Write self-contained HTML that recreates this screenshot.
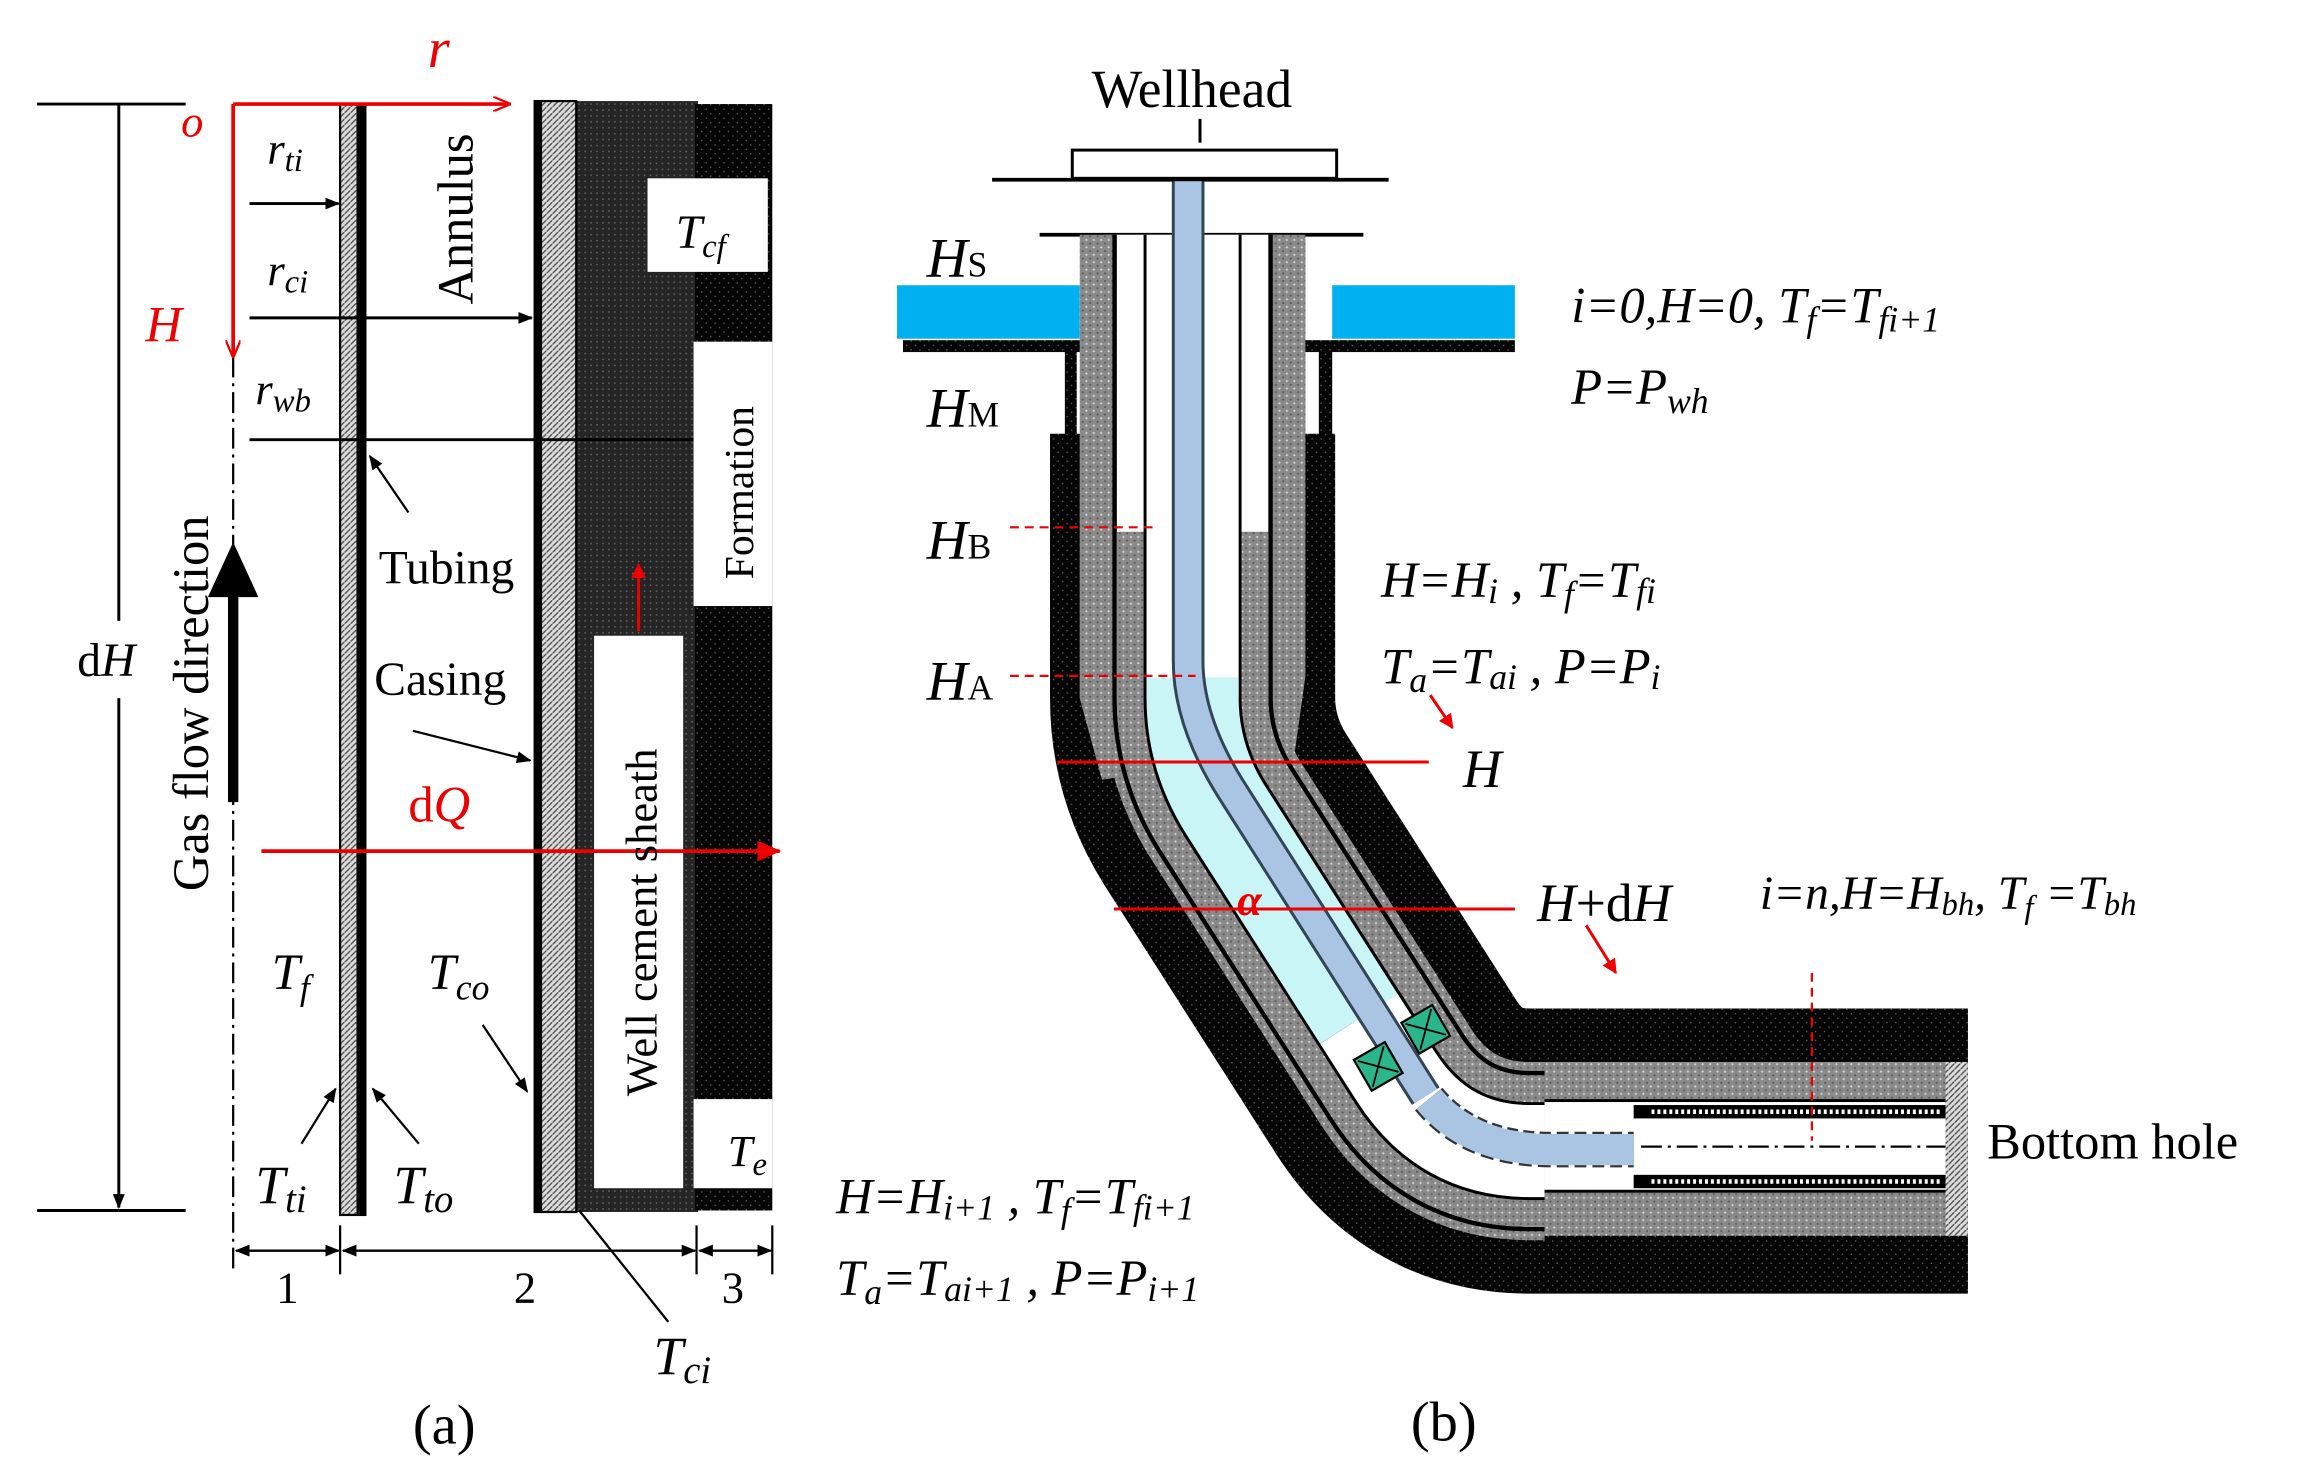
<!DOCTYPE html>
<html><head><meta charset="utf-8"><style>
html,body{margin:0;padding:0;background:#fff}
svg{display:block}
text{font-family:"Liberation Serif",serif;fill:#000}
.i{font-style:italic}
.r{fill:#e00}
</style></head><body>
<svg width="2302" height="1469" viewBox="0 0 1550 989" xmlns="http://www.w3.org/2000/svg">
<defs>
<pattern id="blk" width="6" height="6" patternUnits="userSpaceOnUse"><rect width="6" height="6" fill="#050505"/><circle cx="1.5" cy="1.5" r="0.5" fill="#666"/><circle cx="4.5" cy="4.5" r="0.5" fill="#666"/></pattern>
<pattern id="gry" width="5" height="5" patternUnits="userSpaceOnUse"><rect width="5" height="5" fill="#8a8a8a"/><circle cx="1.5" cy="1.5" r="0.7" fill="#ddd"/><circle cx="4" cy="4" r="0.7" fill="#555"/></pattern>
<pattern id="hat" width="4" height="4" patternUnits="userSpaceOnUse"><rect width="4" height="4" fill="#ddd"/><path d="M0,4 L4,0" stroke="#555" stroke-width="1"/></pattern>
<pattern id="dk" width="4" height="4" patternUnits="userSpaceOnUse"><rect width="4" height="4" fill="#252525"/><circle cx="2" cy="2" r="0.6" fill="#666"/></pattern>
<marker id="ab" markerWidth="10" markerHeight="8" refX="9" refY="4" orient="auto" markerUnits="userSpaceOnUse"><path d="M0,0 L10,4 L0,8 z" fill="#000"/></marker>
<marker id="ar" markerWidth="12" markerHeight="10" refX="11" refY="5" orient="auto" markerUnits="userSpaceOnUse"><path d="M0,0 L12,5 L0,10" fill="none" stroke="#e00" stroke-width="1.5"/></marker>
<marker id="arf" markerWidth="16" markerHeight="14" refX="15" refY="7" orient="auto" markerUnits="userSpaceOnUse"><path d="M0,0 L16,7 L0,14 z" fill="#e00"/></marker>
<marker id="ars" markerWidth="10" markerHeight="10" refX="9" refY="5" orient="auto" markerUnits="userSpaceOnUse"><path d="M0,0 L10,5 L0,10 z" fill="#e00"/></marker>
</defs>

<!-- ===== Panel (a) ===== -->
<line x1="25" y1="70" x2="125" y2="70" stroke="#000" stroke-width="2"/>
<line x1="25" y1="815" x2="125" y2="815" stroke="#000" stroke-width="2"/>
<line x1="80" y1="70" x2="80" y2="418" stroke="#000" stroke-width="2"/>
<line x1="80" y1="470" x2="80" y2="813" stroke="#000" stroke-width="2" marker-end="url(#ab)"/>
<text x="52" y="455" font-size="32">d<tspan class="i">H</tspan></text>

<rect x="388" y="68" width="82" height="748" fill="url(#dk)"/>
<rect x="468" y="70" width="52" height="745" fill="url(#blk)"/>
<rect x="467" y="230" width="53" height="178" fill="#fff"/>
<rect x="467" y="740" width="53" height="60" fill="#fff"/>
<rect x="436" y="120" width="81" height="63" fill="#fff"/>
<rect x="400" y="428" width="60" height="372" fill="#fff"/>
<rect x="360" y="68" width="28" height="748" fill="url(#hat)" stroke="#000" stroke-width="1.5"/>
<rect x="360" y="68" width="5" height="748" fill="#000"/>
<rect x="229" y="70" width="17" height="748" fill="url(#hat)" stroke="#000" stroke-width="1.5"/>
<rect x="240" y="70" width="6" height="748" fill="#000"/>

<line x1="157" y1="240" x2="157" y2="858" stroke="#000" stroke-width="1.5" stroke-dasharray="14,4,2,4"/>
<line x1="157" y1="70" x2="343" y2="70" stroke="#e00" stroke-width="2.5" marker-end="url(#ar)"/>
<line x1="157" y1="70" x2="157" y2="240" stroke="#e00" stroke-width="2.5" marker-end="url(#ar)"/>
<text x="122" y="92" font-size="30" class="i r">o</text>
<text x="288" y="45" font-size="38" class="i r">r</text>
<text x="98" y="230" font-size="34" class="i r">H</text>

<line x1="168" y1="137" x2="228" y2="137" stroke="#000" stroke-width="2" marker-end="url(#ab)"/>
<line x1="168" y1="214" x2="358" y2="214" stroke="#000" stroke-width="2" marker-end="url(#ab)"/>
<line x1="168" y1="296" x2="467" y2="296" stroke="#000" stroke-width="2"/>
<text x="180" y="110" font-size="30" class="i">r<tspan font-size="22" dy="5">ti</tspan></text>
<text x="180" y="192" font-size="30" class="i">r<tspan font-size="22" dy="5">ci</tspan></text>
<text x="172" y="272" font-size="30" class="i">r<tspan font-size="22" dy="5">wb</tspan></text>

<text transform="translate(318,205) rotate(-90)" font-size="34">Annulus</text>
<text transform="translate(140,600) rotate(-90)" font-size="34">Gas flow direction</text>
<path d="M157,540 V400" stroke="#000" stroke-width="7"/>
<path d="M140,402 L157,365 L174,402 z" fill="#000"/>

<text x="255" y="393" font-size="32">Tubing</text>
<line x1="275" y1="345" x2="249" y2="307" stroke="#000" stroke-width="1.5" marker-end="url(#ab)"/>
<text x="252" y="468" font-size="32">Casing</text>
<line x1="278" y1="492" x2="357" y2="512" stroke="#000" stroke-width="1.5" marker-end="url(#ab)"/>
<text x="275" y="553" font-size="34" class="r">d<tspan class="i">Q</tspan></text>
<line x1="176" y1="573" x2="525" y2="573" stroke="#e00" stroke-width="2.5" marker-end="url(#arf)"/>
<line x1="430" y1="425" x2="430" y2="380" stroke="#e00" stroke-width="2" marker-end="url(#ars)"/>
<text transform="translate(442,738) rotate(-90)" font-size="30">Well cement sheath</text>
<text transform="translate(507,390) rotate(-90)" font-size="28">Formation</text>
<text x="455" y="167" font-size="32" class="i">T<tspan font-size="22" dy="6">cf</tspan></text>
<text x="490" y="785" font-size="30" class="i">T<tspan font-size="22" dy="6">e</tspan></text>
<text x="183" y="666" font-size="34" class="i">T<tspan font-size="24" dy="7">f</tspan></text>
<text x="288" y="666" font-size="34" class="i">T<tspan font-size="24" dy="7">co</tspan></text>
<line x1="325" y1="690" x2="355" y2="735" stroke="#000" stroke-width="1.5" marker-end="url(#ab)"/>
<text x="172" y="810" font-size="36" class="i">T<tspan font-size="26" dy="6">ti</tspan></text>
<line x1="203" y1="770" x2="226" y2="733" stroke="#000" stroke-width="1.5" marker-end="url(#ab)"/>
<text x="265" y="810" font-size="36" class="i">T<tspan font-size="26" dy="6">to</tspan></text>
<line x1="282" y1="770" x2="251" y2="733" stroke="#000" stroke-width="1.5" marker-end="url(#ab)"/>
<line x1="390" y1="815" x2="450" y2="890" stroke="#000" stroke-width="1.5"/>
<text x="440" y="925" font-size="36" class="i">T<tspan font-size="26" dy="6">ci</tspan></text>

<g stroke="#000" stroke-width="1.5">
<line x1="229" y1="825" x2="229" y2="858"/><line x1="469" y1="825" x2="469" y2="858"/><line x1="520" y1="825" x2="520" y2="858"/>
<line x1="159" y1="842" x2="228" y2="842" marker-end="url(#ab)"/>
<line x1="228" y1="842" x2="159" y2="842" marker-end="url(#ab)"/>
<line x1="231" y1="842" x2="468" y2="842" marker-end="url(#ab)"/>
<line x1="468" y1="842" x2="231" y2="842" marker-end="url(#ab)"/>
<line x1="471" y1="842" x2="519" y2="842" marker-end="url(#ab)"/>
<line x1="519" y1="842" x2="471" y2="842" marker-end="url(#ab)"/>
</g>
<text x="186" y="877" font-size="30">1</text>
<text x="346" y="877" font-size="30">2</text>
<text x="486" y="877" font-size="30">3</text>
<text x="278" y="972" font-size="38">(a)</text>

<!-- ===== Panel (b) ===== -->
<text x="735" y="72" font-size="36">Wellhead</text>
<line x1="808" y1="80" x2="808" y2="96" stroke="#000" stroke-width="2"/>
<rect x="722" y="101" width="178" height="19" fill="#fff" stroke="#000" stroke-width="2"/>
<line x1="668" y1="121" x2="935" y2="121" stroke="#000" stroke-width="2.5"/>
<line x1="700" y1="158" x2="918" y2="158" stroke="#000" stroke-width="2.5"/>
<rect x="604" y="192" width="123" height="36" fill="#00b0f0"/>
<rect x="897" y="192" width="123" height="36" fill="#00b0f0"/>
<rect x="608" y="229" width="412" height="8" fill="url(#blk)"/>
<rect x="717" y="236" width="8" height="60" fill="url(#blk)"/>
<rect x="888" y="236" width="9" height="60" fill="url(#blk)"/>

<g fill="none" stroke-linejoin="round">
<path d="M803,292 V470 Q803,510 825,545 L940,725 Q972,775 1030,775 H1325" stroke="url(#blk)" stroke-width="192"/>
<path d="M803,158 V470 Q803,510 825,545 L940,725 Q972,775 1030,775 H1325" stroke="url(#gry)" stroke-width="120"/>
</g>
<path d="M727,158 H879 V455 L872,505 L742,525 L727,470 Z" fill="url(#gry)"/>
<g fill="none" stroke-linejoin="round">
<path d="M803,158 V470 Q803,510 825,545 L940,725 Q972,775 1030,775 H1110" stroke="#000" stroke-width="108"/>
<path d="M803,158 V470 Q803,510 825,545 L940,725 Q972,775 1030,775 H1110" stroke="#fff" stroke-width="102"/>
<path d="M803,358 V470 Q803,510 825,545 L940,725 Q972,775 1030,775 H1050" stroke="url(#gry)" stroke-width="102"/>
<path d="M803,158 V470 Q803,510 825,545 L940,725 Q972,775 1030,775 H1050" stroke="#000" stroke-width="66"/>
<path d="M803,158 V470" stroke="#fff" stroke-width="62"/>
<path d="M803,456 V470 Q803,510 825,545 L915,686" stroke="#c9f5f7" stroke-width="62"/>
<path d="M915,686 L940,725 Q972,775 1030,775 H1050" stroke="#fff" stroke-width="62"/>
</g>
<!-- horizontal section overlay -->
<rect x="1040" y="680" width="285" height="190" fill="url(#blk)"/>
<rect x="1040" y="715" width="285" height="117" fill="url(#gry)"/>
<rect x="1040" y="740" width="270" height="2" fill="#000"/>
<rect x="1040" y="801" width="270" height="2" fill="#000"/>
<rect x="1040" y="742" width="270" height="59" fill="#fff"/>
<rect x="1100" y="744" width="210" height="9" fill="#000"/>
<rect x="1100" y="791" width="210" height="9" fill="#000"/>
<line x1="1112" y1="748.5" x2="1308" y2="748.5" stroke="#fff" stroke-width="3" stroke-dasharray="2,2"/>
<line x1="1112" y1="795.5" x2="1308" y2="795.5" stroke="#fff" stroke-width="3" stroke-dasharray="2,2"/>
<rect x="1310" y="715" width="15" height="117" fill="url(#hat)"/>
<line x1="1105" y1="772" x2="1310" y2="772" stroke="#000" stroke-width="1.5" stroke-dasharray="14,4,2,4"/>
<line x1="1220" y1="655" x2="1220" y2="768" stroke="#e00" stroke-width="1.5" stroke-dasharray="6,4"/>
<!-- tubing -->
<path d="M800,122 V445 Q800,485 828,530 L960,738" fill="none" stroke="#345" stroke-width="22"/>
<path d="M800,122 V445 Q800,485 828,530 L960,738" fill="none" stroke="#a9c5e3" stroke-width="18"/>
<path d="M962,740 Q990,774 1045,774 H1100" fill="none" stroke="#333" stroke-width="24" stroke-dasharray="8,4"/>
<path d="M962,740 Q990,774 1045,774 H1100" fill="none" stroke="#a9c5e3" stroke-width="21"/>
<g stroke="#000" stroke-width="1.5" fill="#2bb58a">
<rect x="916" y="706" width="24" height="24" transform="rotate(-30 928 718)"/>
<rect x="948" y="681" width="24" height="24" transform="rotate(-30 960 693)"/>
</g>
<g stroke="#000" stroke-width="1.2">
<path d="M918,708 L938,728 M938,708 L918,728" transform="rotate(-30 928 718)"/>
<path d="M950,683 L970,703 M970,683 L950,703" transform="rotate(-30 960 693)"/>
</g>

<line x1="680" y1="355" x2="780" y2="355" stroke="#e00" stroke-width="1.5" stroke-dasharray="6,4"/>
<line x1="680" y1="455" x2="805" y2="455" stroke="#e00" stroke-width="1.5" stroke-dasharray="6,4"/>
<line x1="712" y1="513" x2="962" y2="513" stroke="#e00" stroke-width="2"/>
<line x1="750" y1="612" x2="1020" y2="612" stroke="#e00" stroke-width="2"/>
<text x="833" y="616" font-size="30" class="i r" font-weight="bold">α</text>
<line x1="963" y1="468" x2="978" y2="490" stroke="#e00" stroke-width="2" marker-end="url(#ars)"/>
<line x1="1068" y1="623" x2="1088" y2="655" stroke="#e00" stroke-width="2" marker-end="url(#ars)"/>

<text x="624" y="186" font-size="38" class="i">H<tspan font-size="24" font-style="normal">S</tspan></text>
<text x="624" y="287" font-size="38" class="i">H<tspan font-size="24" font-style="normal">M</tspan></text>
<text x="624" y="376" font-size="38" class="i">H<tspan font-size="24" font-style="normal">B</tspan></text>
<text x="624" y="471" font-size="38" class="i">H<tspan font-size="24" font-style="normal">A</tspan></text>
<text x="1058" y="217" font-size="34" class="i">i=0,H=0,  T<tspan font-size="24" dy="6">f</tspan><tspan dy="-6">=T</tspan><tspan font-size="24" dy="6">fi+1</tspan></text>
<text x="1058" y="272" font-size="34" class="i">P=P<tspan font-size="24" dy="6">wh</tspan></text>
<text x="930" y="402" font-size="34" class="i">H=H<tspan font-size="24" dy="4">i</tspan><tspan dy="-4"> , T</tspan><tspan font-size="24" dy="6">f</tspan><tspan dy="-6">=T</tspan><tspan font-size="24" dy="4">fi</tspan></text>
<text x="930" y="460" font-size="34" class="i">T<tspan font-size="24" dy="6">a</tspan><tspan dy="-6">=T</tspan><tspan font-size="24" dy="4">ai</tspan><tspan dy="-4">  , P=P</tspan><tspan font-size="24" dy="4">i</tspan></text>
<text x="985" y="530" font-size="36" class="i">H</text>
<text x="1035" y="620" font-size="36" class="i">H<tspan font-style="normal">+d</tspan>H</text>
<text x="1185" y="612" font-size="32" class="i">i=n,H=H<tspan font-size="22" dy="4">bh</tspan><tspan dy="-4">, T</tspan><tspan font-size="22" dy="6">f</tspan><tspan dy="-6"> =T</tspan><tspan font-size="22" dy="4">bh</tspan></text>
<text x="563" y="817" font-size="34" class="i">H=H<tspan font-size="24" dy="4">i+1</tspan><tspan dy="-4"> , T</tspan><tspan font-size="24" dy="6">f</tspan><tspan dy="-6">=T</tspan><tspan font-size="24" dy="4">fi+1</tspan></text>
<text x="563" y="872" font-size="34" class="i">T<tspan font-size="24" dy="6">a</tspan><tspan dy="-6">=T</tspan><tspan font-size="24" dy="4">ai+1</tspan><tspan dy="-4">  , P=P</tspan><tspan font-size="24" dy="4">i+1</tspan></text>
<text x="1338" y="780" font-size="34">Bottom hole</text>
<text x="950" y="970" font-size="38">(b)</text>
</svg>
</body></html>
